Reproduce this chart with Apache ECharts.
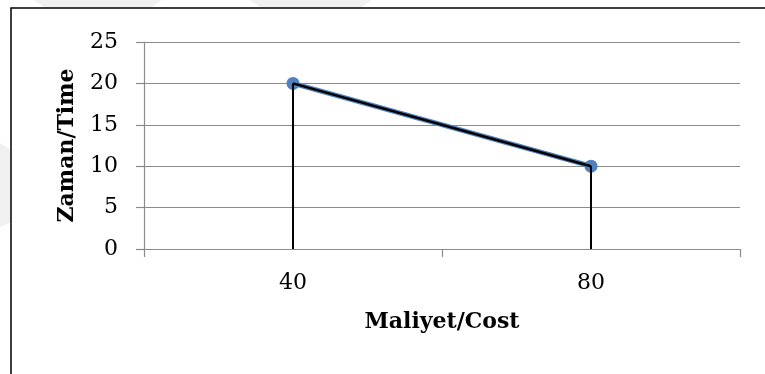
<!DOCTYPE html>
<html>
<head>
<meta charset="utf-8">
<script src="https://cdn.jsdelivr.net/npm/echarts@6/dist/echarts.min.js"></script>
<style>
  html, body { margin: 0; padding: 0; background: #ffffff; }
  #chart { width: 765px; height: 374px; }
</style>
</head>
<body>
<div id="chart"></div>
<script>
// Cost (x categories) and time (y values)
const costCategories = ['40', '80'];
const timeValues = [20, 10];
const xAxisTitle = 'Maliyet/Cost';
const yAxisTitle = 'Zaman/Time';

const serif = '"DejaVu Serif", "Liberation Serif", serif';
const gridGray = '#8a8a8a';
const seriesBlue = '#4F81BD';

const chart = echarts.init(document.getElementById('chart'), null, { renderer: 'canvas' });

chart.setOption({
  animation: false,
  backgroundColor: '#ffffff',
  graphic: [
    // faint background shapes
    { type: 'polygon', silent: true, z: -10,
      shape: { points: [[34, 0], [162, 0], [150, 8], [46, 8]] },
      style: { fill: '#f0f0f0' } },
    { type: 'polygon', silent: true, z: -10,
      shape: { points: [[250, 0], [372, 0], [360, 8], [262, 8]] },
      style: { fill: '#f0f0f0' } },
    { type: 'polygon', silent: true, z: -10,
      shape: { points: [[0, 143], [11, 150], [11, 222], [0, 227]] },
      style: { fill: '#f0f0f0' } },
    // chart frame
    { type: 'rect', silent: true, z: 10,
      shape: { x: 11, y: 8, width: 800, height: 400 },
      style: { fill: null, stroke: '#000000', lineWidth: 1.5 } }
  ],
  grid: { left: 144, right: 25, top: 42, bottom: 125, containLabel: false },
  xAxis: {
    type: 'category',
    data: costCategories,
    boundaryGap: true,
    name: xAxisTitle,
    nameLocation: 'middle',
    nameGap: 62,
    nameTextStyle: { fontFamily: serif, fontWeight: 'bold', fontSize: 22, color: '#000' },
    axisLine: { show: true, lineStyle: { color: gridGray, width: 1.2 } },
    axisTick: { show: true, length: 8, alignWithLabel: false, lineStyle: { color: gridGray, width: 1.2 } },
    axisLabel: { fontFamily: serif, fontSize: 22, color: '#000', margin: 23 },
    splitLine: { show: false }
  },
  yAxis: {
    type: 'value',
    min: 0,
    max: 25,
    interval: 5,
    name: yAxisTitle,
    nameLocation: 'middle',
    nameGap: 66,
    nameRotate: 90,
    nameTextStyle: { fontFamily: serif, fontWeight: 'bold', fontSize: 22, color: '#000' },
    axisLine: { show: true, lineStyle: { color: gridGray, width: 1.2 } },
    axisTick: { show: true, length: 8, lineStyle: { color: gridGray, width: 1.2 } },
    axisLabel: { fontFamily: serif, fontSize: 22, color: '#000', margin: 26 },
    splitLine: { show: true, lineStyle: { color: gridGray, width: 1.2 } }
  },
  series: [
    {
      // blue series line with markers
      type: 'line',
      data: timeValues,
      z: 2,
      symbol: 'circle',
      symbolSize: 13,
      itemStyle: { color: seriesBlue },
      lineStyle: { color: seriesBlue, width: 5 }
    },
    {
      // black connector drawn over the series
      type: 'line',
      data: timeValues,
      z: 3,
      symbol: 'none',
      lineStyle: { color: '#000000', width: 2.5 }
    },
    {
      // drop lines from each point to the axis
      type: 'bar',
      data: timeValues,
      z: 4,
      barWidth: 2,
      barGap: '-100%',
      itemStyle: { color: '#000000' }
    }
  ]
});
</script>
</body>
</html>
